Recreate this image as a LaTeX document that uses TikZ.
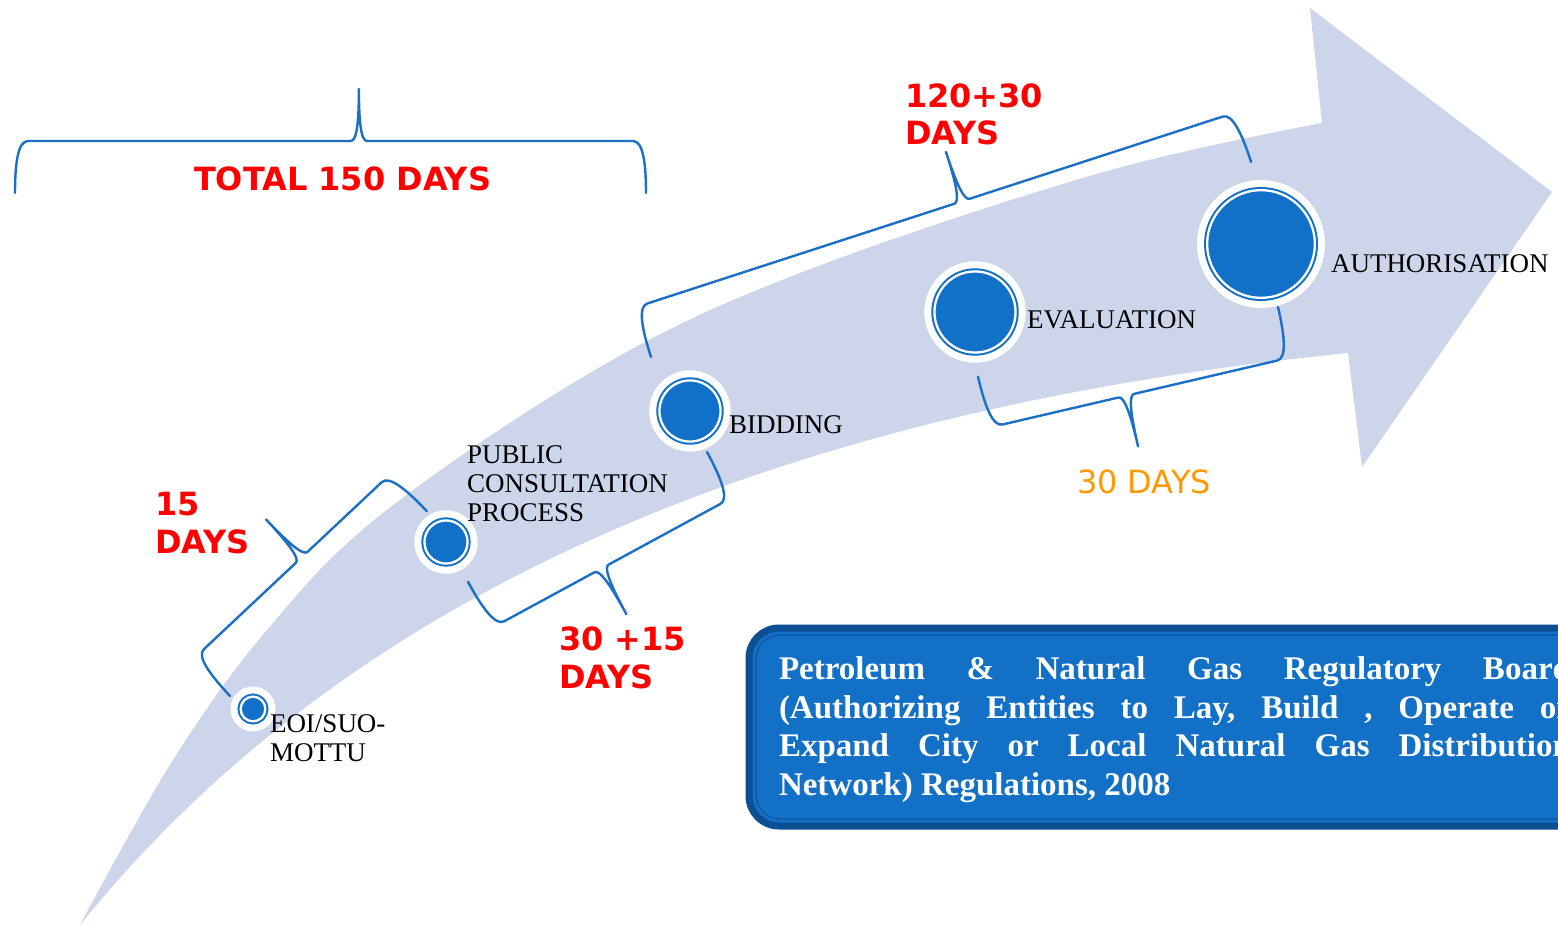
\documentclass[tikz,border=0pt]{standalone}
\usepackage{fontspec}
\setmainfont{Liberation Serif}
\newfontfamily\dayfont{DejaVu Sans}
\definecolor{bandfill}{HTML}{CDD5EA}
\definecolor{dotblue}{HTML}{1170C8}
\definecolor{braceblue}{HTML}{1C6FC6}
\definecolor{dayred}{HTML}{FF0000}
\definecolor{dayorange}{HTML}{FF9900}
\definecolor{boxblue}{HTML}{1270C6}
\definecolor{boxedge}{HTML}{0C4F92}

\begin{document}
\begin{tikzpicture}[x=1pt, y=-1pt,
	every node/.style={inner sep=0pt, outer sep=0pt},
	braceline/.style={braceblue, line width=2.4pt, line cap=round, line join=round},
	stage/.style={circle, fill=dotblue, draw=dotblue, line width=2pt, double=white, double distance=2.3pt},
	stagelabel/.style={font=\fontsize{27}{29}\selectfont, align=left},
	daylabel/.style={font=\dayfont\bfseries\fontsize{32}{37.5}\selectfont, text=dayred, align=left},
	regtext/.style={font=\bfseries\fontsize{33}{38.5}\selectfont, text=white, align=left},
	pics/bracket/.style={code={
		\draw[braceline] (0,0) .. controls (0,-30) and (3,-52) .. (13,-52)
			-- ({0.545*#1-8},-52) .. controls ({0.545*#1-2},-52) and ({0.545*#1},-72) .. ({0.545*#1},-104)
			.. controls ({0.545*#1},-72) and ({0.545*#1+2},-52) .. ({0.545*#1+8},-52)
			-- ({#1-13},-52) .. controls ({#1-3},-52) and (#1,-30) .. (#1,0);
	}}]
	\fill[white] (0,0) rectangle (1558,925);
	\useasboundingbox (0,0) rectangle (1558,925);

	\fill[bandfill] plot[smooth, tension=0.6] coordinates {(80,925) (173,760) (267,630) (383,513) (600,367) (800,273) (1100,173) (1322,123)}
		-- (1310,8) -- (1552,192) -- (1362,467) -- (1348,353)
		.. controls (780,410) and (350,590) .. (80,925) -- cycle;

	\pic at (15,193) {bracket=631};
	\pic[rotate=43.2] at (230,696) {bracket=270};
	\pic[rotate=208.5] at (707,452) {bracket=272};
	\pic[rotate=18] at (651,357) {bracket=631};
	\pic[rotate=193.1] at (1278,307) {bracket=308};

	\foreach \nm/\x/\y/\r in {eoi/253/709/15.5, pcp/446/542/24.7, bid/690/411/33.7, evl/975/312/43.7, auth/1261/244/57} {
		\fill[white] (\x,\y) circle ({\r+7});
		\node[stage, minimum size={2*(\r-3.15)}] (\nm) at (\x,\y) {};
	}

	\node[stagelabel, anchor=base west] (eoitxt) at (270,761) {EOI/SUO-\\MOTTU};
	\node[stagelabel, anchor=base west] (pcptxt) at (467,521) {PUBLIC\\CONSULTATION\\PROCESS};
	\node[stagelabel, anchor=base west] (bidtxt) at (729,433) {BIDDING};
	\node[stagelabel, anchor=base west] (evltxt) at (1027,328) {EVALUATION};
	\node[stagelabel, anchor=base west] (authtxt) at (1331,273) {AUTHORISATION};

	\node[daylabel, anchor=base west] (total) at (194,191) {TOTAL 150 DAYS};
	\node[daylabel, anchor=base west] (days15) at (155,553) {15\\DAYS};
	\node[daylabel, anchor=base west] (days45) at (559,688) {30 +15\\DAYS};
	\node[daylabel, anchor=base west] (days150) at (905,145) {120+30\\DAYS};
	\node[daylabel, anchor=base west, font=\dayfont\fontsize{32}{37.5}\selectfont, text=dayorange] (days30) at (1077,493) {30 DAYS};

	\draw[boxedge, fill=boxblue, line width=7pt, rounded corners=30pt] (749,628) rectangle (1640,826);
	\draw[boxedge!60!boxblue, line width=1.5pt, rounded corners=24pt] (756,635) rectangle (1640,819);
	\node[regtext, anchor=base west] (regs) at (779,795) {%
		\makebox[792pt]{Petroleum\hfill\&\hfill Natural\hfill Gas\hfill Regulatory\hfill Board}\\
		\makebox[792pt]{(Authorizing\hfill Entities\hfill to\hfill Lay,\hfill Build\hfill,\hfill Operate\hfill or}\\
		\makebox[792pt]{Expand\hfill City\hfill or\hfill Local\hfill Natural\hfill Gas\hfill Distribution}\\
		Network) Regulations, 2008};
\end{tikzpicture}
\end{document}
